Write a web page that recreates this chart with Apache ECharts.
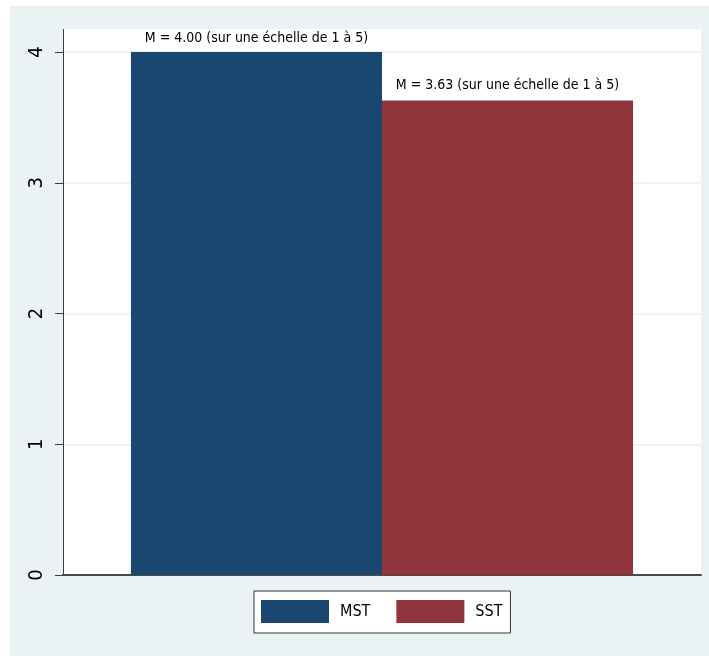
<!DOCTYPE html>
<html>
<head>
<meta charset="utf-8">
<script src="https://cdn.jsdelivr.net/npm/echarts@6/dist/echarts.min.js"></script>
<style>
html,body{margin:0;padding:0;background:#ffffff;}
#chart{width:709px;height:658px;}
</style>
</head>
<body>
<div id="chart"></div>
<script>
var categories = [''];
var seriesNames = ['MST', 'SST'];
var mstValues = [4.00];
var sstValues = [3.63];
var barLabels = ['M = 4.00 (sur une échelle de 1 à 5)', 'M = 3.63 (sur une échelle de 1 à 5)'];
var yTicks = [0, 1, 2, 3, 4];

var FONT = '"DejaVu Sans Condensed", "Liberation Sans", sans-serif';
var chart = echarts.init(document.getElementById('chart'), null, {renderer: 'canvas'});

function mkSeries(name, values, color, labelText, dist) {
  return {
    name: name,
    type: 'bar',
    data: values,
    barGap: '0%',
    barCategoryGap: '21.3%',
    itemStyle: {color: color},
    label: {
      show: true,
      position: 'top',
      distance: dist,
      formatter: function () { return labelText; },
      fontFamily: FONT,
      fontSize: 14,
      color: '#000'
    },
    emphasis: {disabled: true},
    z: 3
  };
}

chart.setOption({
  animation: false,
  backgroundColor: '#ffffff',
  graphic: [
    {type: 'rect', shape: {x: 10, y: 6, width: 699, height: 650}, style: {fill: '#eaf2f3'}, z: -10, silent: true},
    {type: 'rect', shape: {x: 63, y: 29, width: 638, height: 546}, style: {fill: '#ffffff'}, z: -9, silent: true},
    {type: 'line', shape: {x1: 63.5, y1: 29, x2: 63.5, y2: 575}, style: {stroke: '#3c3c3c', lineWidth: 1}, z: 10, silent: true}
  ],
  grid: {left: 63, right: 8, top: 52, bottom: 83, containLabel: false},
  legend: {
    data: seriesNames,
    left: 254,
    top: 591,
    orient: 'horizontal',
    backgroundColor: '#ffffff',
    borderColor: '#333333',
    borderWidth: 1,
    borderRadius: 0,
    padding: [9, 8, 10, 7],
    itemWidth: 68,
    itemHeight: 23,
    itemGap: 26,
    icon: 'rect',
    textStyle: {fontFamily: FONT, fontSize: 16, color: '#000', padding: [0, 0, 0, 6]},
    selectedMode: false
  },
  xAxis: {
    type: 'category',
    data: categories,
    axisLine: {show: true, lineStyle: {color: '#4a4a4a', width: 2}},
    axisTick: {show: false},
    axisLabel: {show: false},
    splitLine: {show: false}
  },
  yAxis: {
    type: 'value',
    min: yTicks[0],
    max: yTicks[yTicks.length - 1],
    interval: 1,
    axisLine: {show: true, lineStyle: {color: '#3c3c3c', width: 1}},
    axisTick: {show: true, length: 8, lineStyle: {color: '#3c3c3c', width: 1}},
    axisLabel: {
      rotate: 90,
      margin: 16,
      fontFamily: FONT,
      fontSize: 20,
      color: '#000'
    },
    splitLine: {show: true, lineStyle: {color: '#eaf2f3', width: 1.5}}
  },
  series: [
    mkSeries(seriesNames[0], mstValues, '#1a476f', barLabels[0], 7),
    mkSeries(seriesNames[1], sstValues, '#90353b', barLabels[1], 8)
  ]
});
</script>
</body>
</html>
